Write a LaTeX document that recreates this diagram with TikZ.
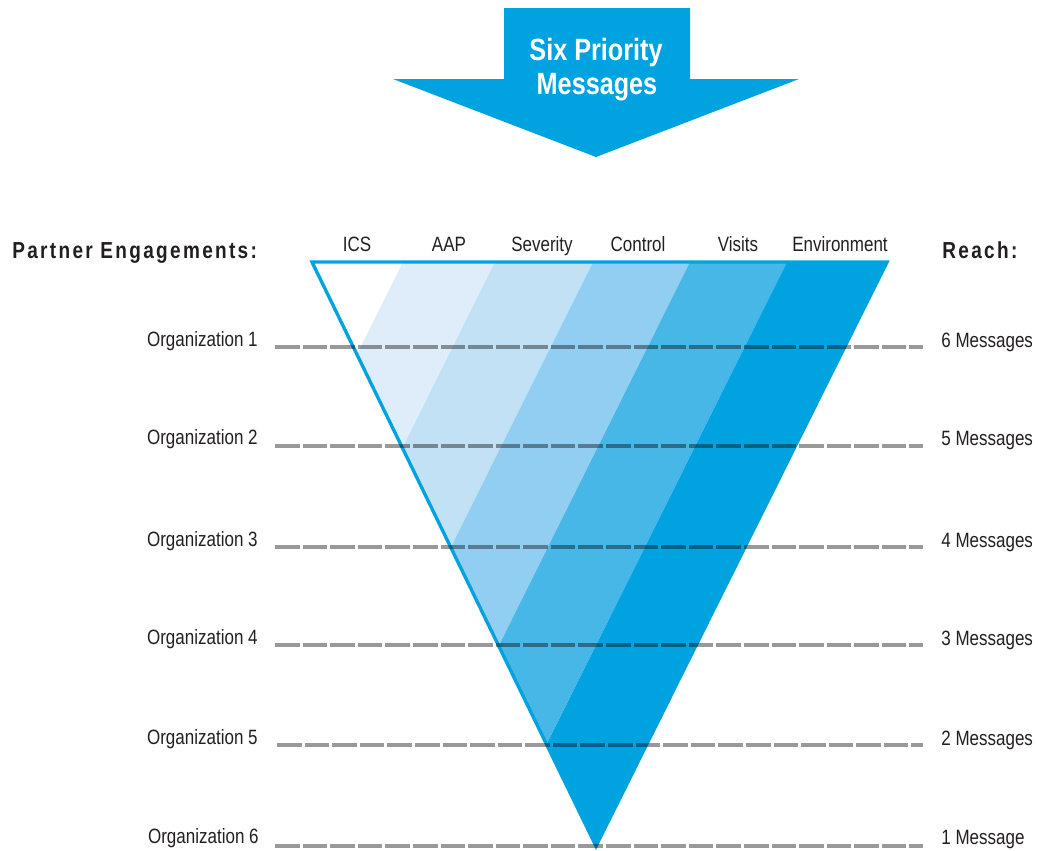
\documentclass[tikz,border=0pt]{standalone}
\usepackage{fontspec}
\setmainfont{Liberation Sans}[FakeStretch=0.82]
\usepackage{tikz}

\definecolor{msgblue}{RGB}{0,163,224}
\definecolor{bandA}{RGB}{222,237,249}
\definecolor{bandB}{RGB}{194,225,245}
\definecolor{bandC}{RGB}{145,206,241}
\definecolor{bandD}{RGB}{71,183,232}
\definecolor{ink}{RGB}{35,31,32}

\tikzset{
    lbl/.style={inner sep=0pt, text=ink, font=\fontsize{11.8}{14}\selectfont},
    heading/.style={inner sep=0pt, text=ink, font=\fontsize{13.2}{16}\selectfont\bfseries\addfontfeature{LetterSpace=10}},
    titletext/.style={inner sep=0pt, text=white, font=\fontsize{17.5}{20}\selectfont\bfseries},
    guide/.style={line width=2.3pt, black, opacity=0.4, dash pattern=on 14pt off 1.7pt}
}

\begin{document}
\begin{tikzpicture}[x=0.02cm, y=-0.02cm]
                \useasboundingbox (0,0) rectangle (1038,850);

                % arrow on top
                \fill[msgblue] (504,8) -- (690,8) -- (690,79) -- (799,79) -- (596,157) -- (393,79) -- (504,79) -- cycle;
                \node[titletext, anchor=base] (title1) at (596,60) {Six Priority};
                \node[titletext, anchor=base] (title2) at (597,94) {Messages};

                % funnel, bands run parallel to the right side
                \begin{scope}
                    \clip (312,262) -- (887,262) -- (596,846) -- cycle;
                    \fill[bandA] (403,262) -- (495,262) -- (204,846) -- (112,846) -- cycle;
                    \fill[bandB] (495,262) -- (593,262) -- (302,846) -- (204,846) -- cycle;
                    \fill[bandC] (593,262) -- (690,262) -- (399,846) -- (302,846) -- cycle;
                    \fill[bandD] (690,262) -- (787,262) -- (496,846) -- (399,846) -- cycle;
                    \fill[msgblue] (787,262) -- (887,262) -- (596,846) -- (496,846) -- cycle;
                \end{scope}
                \draw[msgblue, line width=1.9pt] (312,262) -- (887,262) -- (596,846) -- cycle;

                \node[lbl, anchor=base] (ics) at (357,251) {ICS};
                \node[lbl, anchor=base] (aap) at (449,251) {AAP};
                \node[lbl, anchor=base] (sev) at (542,251) {Severity};
                \node[lbl, anchor=base] (ctrl) at (638,251) {Control};
                \node[lbl, anchor=base] (vis) at (738,251) {Visits};
                \node[lbl, anchor=base] (env) at (840,251) {Environment};

                \node[heading, anchor=base west] (partners) at (12,258) {Partner Engagements:};
                \node[heading, anchor=base west] (reach) at (942,258) {Reach:};

                % one dashed row per organization
                \coordinate (a1) at (275,347); \coordinate (b1) at (923,347);
                \coordinate (a2) at (275,446); \coordinate (b2) at (923,446);
                \coordinate (a3) at (275,547); \coordinate (b3) at (923,547);
                \coordinate (a4) at (275,645); \coordinate (b4) at (923,645);
                \coordinate (a5) at (277,745); \coordinate (b5) at (923,745);
                \coordinate (a6) at (275,846); \coordinate (b6) at (923,846);
                \draw[guide] (a1) -- (b1);
                \draw[guide] (a2) -- (b2);
                \draw[guide] (a3) -- (b3);
                \draw[guide] (a4) -- (b4);
                \draw[guide] (a5) -- (b5);
                \draw[guide] (a6) -- (b6);

                \node[lbl, anchor=base east] (org1) at (258,346) {Organization 1};
                \node[lbl, anchor=base east] (org2) at (258,444) {Organization 2};
                \node[lbl, anchor=base east] (org3) at (258,546) {Organization 3};
                \node[lbl, anchor=base east] (org4) at (258,644) {Organization 4};
                \node[lbl, anchor=base east] (org5) at (258,744) {Organization 5};
                \node[lbl, anchor=base east] (org6) at (259,843) {Organization 6};

                \node[lbl, anchor=base west] (msg6) at (941,347) {6 Messages};
                \node[lbl, anchor=base west] (msg5) at (941,445) {5 Messages};
                \node[lbl, anchor=base west] (msg4) at (941,547) {4 Messages};
                \node[lbl, anchor=base west] (msg3) at (941,645) {3 Messages};
                \node[lbl, anchor=base west] (msg2) at (941,745) {2 Messages};
                \node[lbl, anchor=base west] (msg1) at (941,844) {1 Message};
            \end{tikzpicture}
\end{document}
